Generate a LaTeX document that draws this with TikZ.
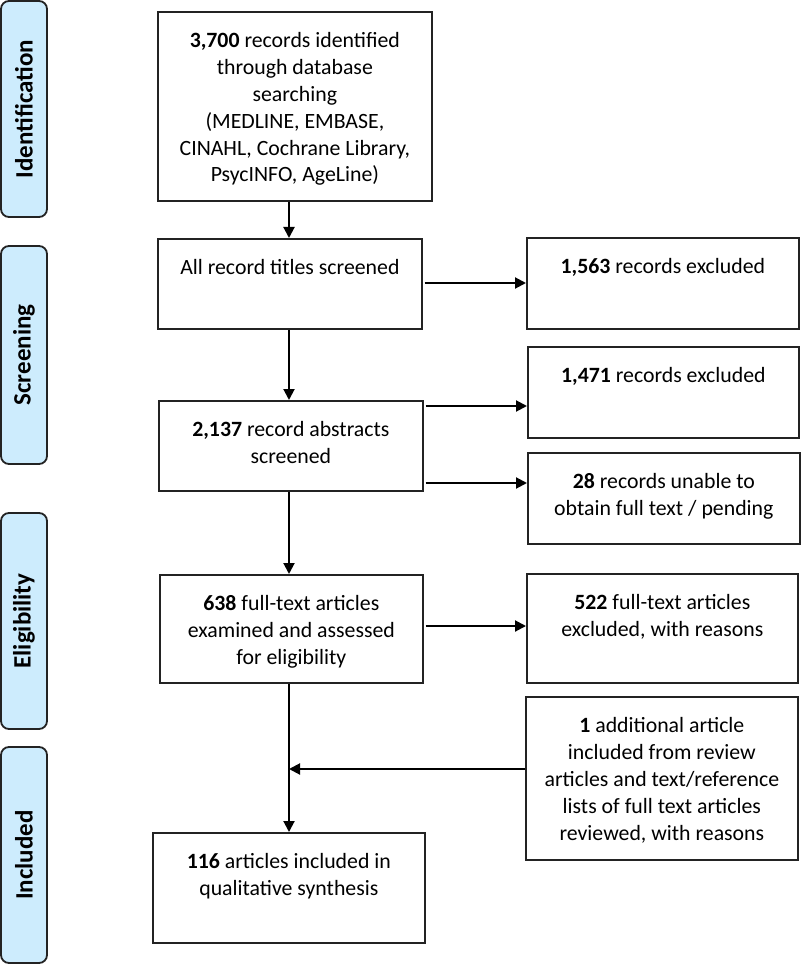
\documentclass[tikz,border=0pt]{standalone}
\usepackage{fontspec}
\setmainfont{Carlito}
\usetikzlibrary{arrows.meta}
\definecolor{sidefill}{RGB}{205,236,253}
\definecolor{edgecol}{RGB}{35,35,35}
\newcommand\boxtxt[3]{\parbox[b][#2][t]{#1}{\centering\rule{0pt}{36pt}#3}}
\begin{document}
\begin{tikzpicture}[x=1pt,y=-1pt,
  sidebox/.style={draw=edgecol,line width=1.8pt,fill=sidefill,rounded corners=8pt,rotate=90,
     minimum height=46pt,inner sep=0pt,font=\fontsize{25}{28}\selectfont\bfseries,anchor=center},
  flowbox/.style={draw=edgecol,line width=1.7pt,inner sep=0pt,anchor=north west,
     font=\fontsize{21.8}{26.8}\selectfont},
  arr/.style={line width=2pt,draw=black,-{Triangle[length=11pt,width=11pt]}},
  ln/.style={line width=2pt,draw=black}
]
\useasboundingbox (0,0) rectangle (800,965);
% side labels
\node[sidebox,minimum width=216pt] (sid) at (24,109) {Identification};
\node[sidebox,minimum width=218pt] (sscr) at (24,355) {Screening};
\node[sidebox,minimum width=216pt] (selg) at (24,621) {Eligibility};
\node[sidebox,minimum width=216pt] (sinc) at (24,855) {Included};
% main column
\node[flowbox] (b1) at (157,11) {\boxtxt{274pt}{189pt}{\textbf{3,700} records identified\\ through database\\ searching\\ (MEDLINE, EMBASE,\\ CINAHL, Cochrane Library,\\ PsycINFO, AgeLine)}};
\node[flowbox] (b2) at (157,238) {\boxtxt{264pt}{90pt}{All record titles screened}};
\node[flowbox] (b3) at (158,400) {\boxtxt{264pt}{90pt}{\textbf{2,137} record abstracts\\ screened}};
\node[flowbox] (b4) at (159,574) {\boxtxt{263pt}{108pt}{\textbf{638} full-text articles\\ examined and assessed\\ for eligibility}};
\node[flowbox] (b5) at (152,832) {\boxtxt{272pt}{110pt}{\textbf{116} articles included in\\ qualitative synthesis}};
% right column
\node[flowbox] (r1) at (526,237) {\boxtxt{272pt}{91pt}{\textbf{1,563} records excluded}};
\node[flowbox] (r2) at (527,346) {\boxtxt{271pt}{91pt}{\textbf{1,471} records excluded}};
\node[flowbox] (r3) at (527,452) {\boxtxt{272pt}{91pt}{\textbf{28} records unable to\\ obtain full text / pending}};
\node[flowbox] (r4) at (526,573) {\boxtxt{271pt}{109pt}{\textbf{522} full-text articles\\ excluded, with reasons}};
\node[flowbox] (r5) at (525,696) {\boxtxt{272pt}{163pt}{\textbf{1} additional article\\ included from review\\ articles and text/reference\\ lists of full text articles\\ reviewed, with reasons}};
% connectors
\coordinate (spine) at (289,0);
\coordinate (merge) at (289,769);
\coordinate (y2) at (0,283);
\coordinate (y3a) at (0,406);
\coordinate (y3b) at (0,483);
\coordinate (y4) at (0,626);
\draw[arr] (b1.south -| spine) -- (b2.north -| spine);
\draw[arr] (b2.south -| spine) -- (b3.north -| spine);
\draw[arr] (b3.south -| spine) -- (b4.north -| spine);
\draw[ln] (b4.south -| spine) -- (merge);
\draw[arr] (merge) -- (b5.north -| spine);
\draw[arr] ([xshift=2pt]b2.east |- y2) -- (r1.west |- y2);
\draw[arr] ([xshift=2pt]b3.east |- y3a) -- (r2.west |- y3a);
\draw[arr] ([xshift=2pt]b3.east |- y3b) -- (r3.west |- y3b);
\draw[arr] ([xshift=2pt]b4.east |- y4) -- (r4.west |- y4);
\draw[arr] (r5.west |- merge) -- (merge);
\end{tikzpicture}
\end{document}
